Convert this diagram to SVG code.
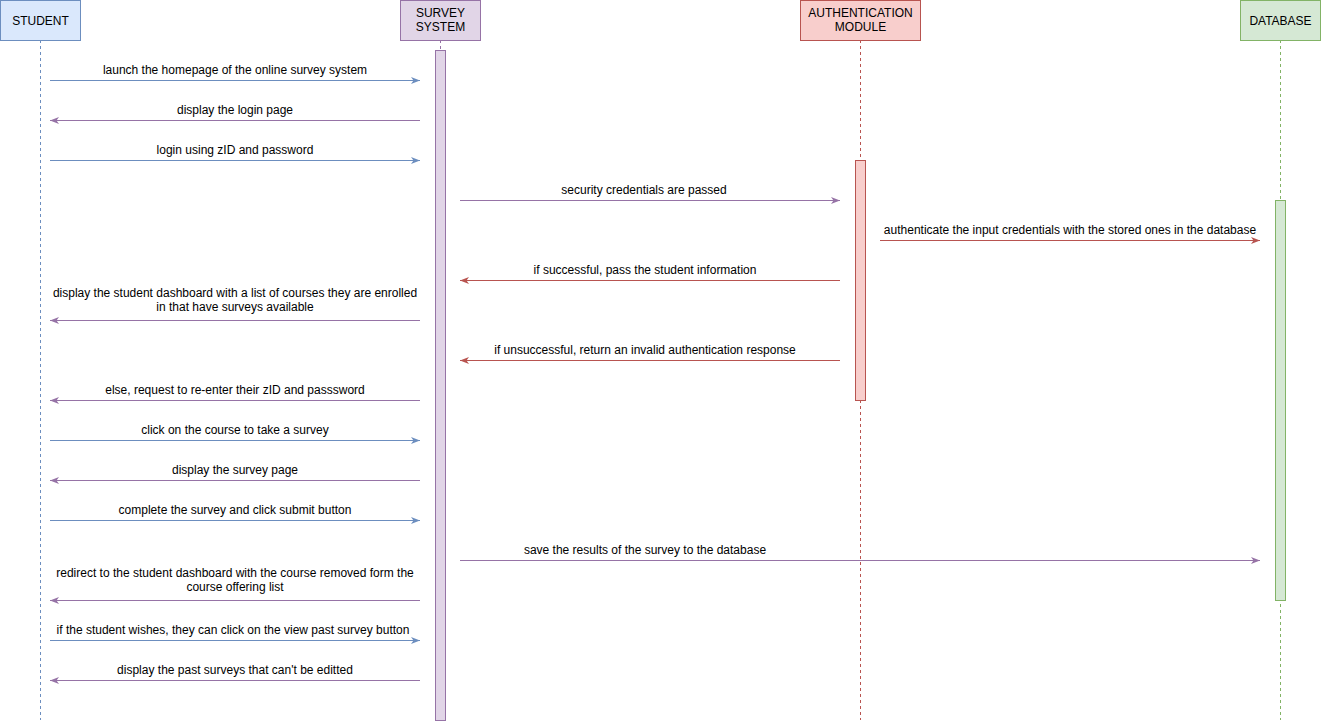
<svg xmlns="http://www.w3.org/2000/svg" width="1321" height="723" viewBox="0 0 1321 723">
<style>
text{font-family:"Liberation Sans",Arial,sans-serif;font-size:12px;fill:#000;text-anchor:middle}
.life{fill:none;stroke-dasharray:3 3;stroke-width:1}
.m{fill:none;stroke-width:1}
.b{stroke:#6c8ebf}.p{stroke:#9673a6}.r{stroke:#b85450}.g{stroke:#82b366}
</style>
<defs>
<marker id="ab" markerWidth="10" markerHeight="8" refX="9" refY="4" orient="auto" markerUnits="userSpaceOnUse"><path d="M0,0.5 L9,4 L0,7.5 L2.5,4 Z" fill="#6c8ebf"/></marker>
<marker id="ap" markerWidth="10" markerHeight="8" refX="9" refY="4" orient="auto" markerUnits="userSpaceOnUse"><path d="M0,0.5 L9,4 L0,7.5 L2.5,4 Z" fill="#9673a6"/></marker>
<marker id="ar" markerWidth="10" markerHeight="8" refX="9" refY="4" orient="auto" markerUnits="userSpaceOnUse"><path d="M0,0.5 L9,4 L0,7.5 L2.5,4 Z" fill="#b85450"/></marker>
</defs>
<rect width="1321" height="723" fill="#fff"/>
<g id="student">
<line class="life b" x1="40.5" y1="40" x2="40.5" y2="720"/>
<rect x="0.5" y="0.5" width="80" height="40" fill="#dae8fc" stroke="#6c8ebf"/>
<text x="40.5" y="24.5">STUDENT</text>
</g>
<g id="survey-system">
<line class="life p" x1="440.5" y1="40" x2="440.5" y2="50"/>
<rect x="400.5" y="0.5" width="80" height="40" fill="#e1d5e7" stroke="#9673a6"/>
<text x="440.5" y="17">SURVEY</text>
<text x="440.5" y="31">SYSTEM</text>
<rect x="435.5" y="50.5" width="10" height="670" fill="#e1d5e7" stroke="#9673a6"/>
</g>
<g id="auth-module">
<line class="life r" x1="860.5" y1="40" x2="860.5" y2="720"/>
<rect x="800.5" y="0.5" width="120" height="40" fill="#f8cecc" stroke="#b85450"/>
<text x="860.5" y="17">AUTHENTICATION</text>
<text x="860.5" y="31">MODULE</text>
<rect x="855.5" y="160.5" width="10" height="240" fill="#f8cecc" stroke="#b85450"/>
</g>
<g id="database">
<line class="life g" x1="1280.5" y1="40" x2="1280.5" y2="720"/>
<rect x="1240.5" y="0.5" width="80" height="40" fill="#d5e8d4" stroke="#82b366"/>
<text x="1280.5" y="24.5">DATABASE</text>
<rect x="1275.5" y="200.5" width="10" height="400" fill="#d5e8d4" stroke="#82b366"/>
</g>
<g id="connectors">
<line class="m b" x1="50" y1="80.5" x2="420" y2="80.5" marker-end="url(#ab)"/>
<text x="235" y="74">launch the homepage of the online survey system</text>
<line class="m p" x1="420" y1="120.5" x2="50" y2="120.5" marker-end="url(#ap)"/>
<text x="235" y="114">display the login page</text>
<line class="m b" x1="50" y1="160.5" x2="420" y2="160.5" marker-end="url(#ab)"/>
<text x="235" y="154">login using zID and password</text>
<line class="m p" x1="460" y1="200.5" x2="840" y2="200.5" marker-end="url(#ap)"/>
<text x="644" y="194">security credentials are passed</text>
<line class="m r" x1="880" y1="240.5" x2="1260" y2="240.5" marker-end="url(#ar)"/>
<text x="1070" y="234">authenticate the input credentials with the stored ones in the database</text>
<line class="m r" x1="840" y1="280.5" x2="460" y2="280.5" marker-end="url(#ar)"/>
<text x="645" y="274">if successful, pass the student information</text>
<line class="m p" x1="420" y1="320.5" x2="50" y2="320.5" marker-end="url(#ap)"/>
<text x="235" y="297">display the student dashboard with a list of courses they are enrolled</text>
<text x="235" y="311">in that have surveys available</text>
<line class="m r" x1="840" y1="360.5" x2="460" y2="360.5" marker-end="url(#ar)"/>
<text x="645" y="354">if unsuccessful, return an invalid authentication response</text>
<line class="m p" x1="420" y1="400.5" x2="50" y2="400.5" marker-end="url(#ap)"/>
<text x="235" y="394">else, request to re-enter their zID and passsword</text>
<line class="m b" x1="50" y1="440.5" x2="420" y2="440.5" marker-end="url(#ab)"/>
<text x="235" y="434">click on the course to take a survey</text>
<line class="m p" x1="420" y1="480.5" x2="50" y2="480.5" marker-end="url(#ap)"/>
<text x="235" y="474">display the survey page</text>
<line class="m b" x1="50" y1="520.5" x2="420" y2="520.5" marker-end="url(#ab)"/>
<text x="235" y="514">complete the survey and click submit button</text>
<line class="m p" x1="460" y1="560.5" x2="1260" y2="560.5" marker-end="url(#ap)"/>
<text x="645" y="554">save the results of the survey to the database</text>
<line class="m p" x1="420" y1="600.5" x2="50" y2="600.5" marker-end="url(#ap)"/>
<text x="235" y="577">redirect to the student dashboard with the course removed form the</text>
<text x="235" y="591">course offering list</text>
<line class="m b" x1="50" y1="640.5" x2="420" y2="640.5" marker-end="url(#ab)"/>
<text x="233" y="634">if the student wishes, they can click on the view past survey button</text>
<line class="m p" x1="420" y1="680.5" x2="50" y2="680.5" marker-end="url(#ap)"/>
<text x="235" y="674">display the past surveys that can't be editted</text>
</g>
</svg>
